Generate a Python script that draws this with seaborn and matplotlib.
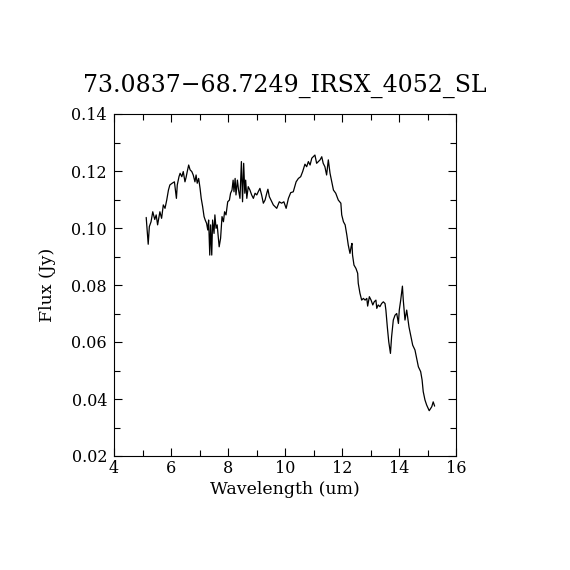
import numpy as np
import pandas as pd
import matplotlib
matplotlib.use('Agg')
import matplotlib.pyplot as plt
import seaborn as sns
from matplotlib.ticker import MultipleLocator, FormatStrFormatter

# spectrum
wavelength = [
    5.13, 5.20, 5.24, 5.30, 5.36, 5.43, 5.48, 5.53, 5.61, 5.67, 5.73, 5.79, 5.85, 5.91,
    5.96, 6.04, 6.12, 6.19, 6.22, 6.28, 6.32, 6.38, 6.43, 6.49, 6.53, 6.57, 6.62, 6.67,
    6.73, 6.78, 6.84, 6.88, 6.92, 6.97, 7.02, 7.06, 7.11, 7.16, 7.20, 7.25, 7.29, 7.32,
    7.36, 7.39, 7.43, 7.46, 7.51, 7.54, 7.58, 7.62, 7.69, 7.74, 7.79, 7.84, 7.88, 7.93,
    7.99, 8.05, 8.09, 8.14, 8.18, 8.21, 8.25, 8.28, 8.33, 8.37, 8.42, 8.47, 8.51, 8.55,
    8.59, 8.62, 8.66, 8.71, 8.77, 8.83, 8.89, 8.95, 9.01, 9.06, 9.12, 9.18, 9.24, 9.30,
    9.36, 9.40, 9.45, 9.59, 9.71, 9.80, 9.88, 9.96, 10.04, 10.12, 10.20, 10.29, 10.39,
    10.47, 10.55, 10.62, 10.70, 10.76, 10.82, 10.88, 10.94, 10.99, 11.05, 11.11, 11.17,
    11.23, 11.29, 11.34, 11.40, 11.46, 11.52, 11.58, 11.64, 11.70, 11.78, 11.87, 11.96,
    11.99, 12.05, 12.11, 12.17, 12.22, 12.28, 12.32, 12.35, 12.37, 12.42, 12.49, 12.55,
    12.57, 12.63, 12.69, 12.75, 12.81, 12.87, 12.90, 12.96, 13.02, 13.08, 13.13, 13.19,
    13.22, 13.27, 13.33, 13.39, 13.45, 13.51, 13.54, 13.59, 13.64, 13.70, 13.74, 13.80,
    13.86, 13.92, 13.98, 14.01, 14.06, 14.12, 14.15, 14.21, 14.27, 14.30, 14.35, 14.41,
    14.48, 14.56, 14.62, 14.68, 14.76, 14.81, 14.85, 14.91, 14.97, 15.06, 15.15, 15.20,
    15.25,
]
flux = [
    0.1037, 0.0943, 0.1005, 0.1022, 0.1057, 0.1030, 0.1046, 0.1011, 0.1057, 0.1034, 0.1081, 0.1069, 0.1098, 0.1133,
    0.1151, 0.1157, 0.1162, 0.1104, 0.1151, 0.1180, 0.1192, 0.1180, 0.1198, 0.1162, 0.1178, 0.1198, 0.1221, 0.1204,
    0.1198, 0.1186, 0.1162, 0.1186, 0.1157, 0.1174, 0.1139, 0.1104, 0.1075, 0.1040, 0.1028, 0.1016, 0.0993, 0.1028,
    0.0905, 0.1011, 0.0905, 0.1028, 0.0981, 0.1046, 0.0999, 0.1011, 0.0934, 0.0964, 0.1040, 0.1022, 0.1057, 0.1046,
    0.1092, 0.1098, 0.1122, 0.1133, 0.1168, 0.1127, 0.1174, 0.1116, 0.1168, 0.1133, 0.1104, 0.1233, 0.1092, 0.1227,
    0.1122, 0.1168, 0.1104, 0.1145, 0.1133, 0.1116, 0.1104, 0.1122, 0.1116, 0.1127, 0.1139, 0.1116, 0.1087, 0.1098,
    0.1122, 0.1136, 0.1110, 0.1081, 0.1069, 0.1092, 0.1087, 0.1092, 0.1069, 0.1104, 0.1124, 0.1127, 0.1162,
    0.1174, 0.1180, 0.1198, 0.1224, 0.1215, 0.1233, 0.1221, 0.1245, 0.1250, 0.1256, 0.1227, 0.1233,
    0.1239, 0.1250, 0.1227, 0.1215, 0.1186, 0.1239, 0.1192, 0.1162, 0.1133, 0.1122, 0.1098, 0.1087,
    0.1046, 0.1022, 0.1011, 0.0975, 0.0940, 0.0911, 0.0934, 0.0946, 0.0905, 0.0870, 0.0858, 0.0841,
    0.0806, 0.0771, 0.0747, 0.0753, 0.0747, 0.0753, 0.0726, 0.0759, 0.0747, 0.0730, 0.0741, 0.0747,
    0.0718, 0.0730, 0.0724, 0.0735, 0.0741, 0.0735, 0.0712, 0.0653, 0.0601, 0.0560, 0.0618, 0.0677,
    0.0694, 0.0700, 0.0665, 0.0712, 0.0747, 0.0796, 0.0747, 0.0677, 0.0712, 0.0689, 0.0653, 0.0624,
    0.0589, 0.0572, 0.0543, 0.0513, 0.0496, 0.0467, 0.0426, 0.0397, 0.0379, 0.0359, 0.0373, 0.0390,
    0.0375,
]
title = '73.0837\u221268.7249_IRSX_4052_SL'

df = pd.DataFrame({'wavelength': wavelength, 'flux': flux})

sns.set_style('white')
plt.rcParams['font.family'] = ['DejaVu Serif', 'DejaVu Sans']
for key in ['text.color', 'axes.labelcolor', 'xtick.color', 'ytick.color']:
    plt.rcParams[key] = 'black'

fig = plt.figure(figsize=(5.7, 5.7), dpi=100)
ax = fig.add_axes([0.2, 0.2, 0.6, 0.6])

sns.lineplot(data=df, x='wavelength', y='flux', ax=ax, color='black',
             linewidth=0.9, sort=False, estimator=None)

ax.set_xlim(4, 16)
ax.set_ylim(0.02, 0.14)
ax.xaxis.set_major_locator(MultipleLocator(2))
ax.xaxis.set_minor_locator(MultipleLocator(1))
ax.yaxis.set_major_locator(MultipleLocator(0.02))
ax.yaxis.set_minor_locator(MultipleLocator(0.01))
ax.yaxis.set_major_formatter(FormatStrFormatter('%.2f'))
ax.tick_params(which='both', direction='in', top=True, right=True,
               bottom=True, left=True, labelsize=11.5)
ax.tick_params(axis='x', pad=3)
ax.tick_params(axis='y', pad=5)
ax.tick_params(which='major', length=6, width=0.8)
ax.tick_params(which='minor', length=4, width=0.8)
for sp in ax.spines.values():
    sp.set_color('black')
    sp.set_linewidth(0.8)

ax.set_xlabel('Wavelength (um)', fontsize=12.5, labelpad=3)
ax.set_ylabel('Flux (Jy)', fontsize=12.5, labelpad=11)
ax.set_title(title, fontsize=17, pad=16)

fig.savefig('out.png', dpi=100, facecolor='white')
